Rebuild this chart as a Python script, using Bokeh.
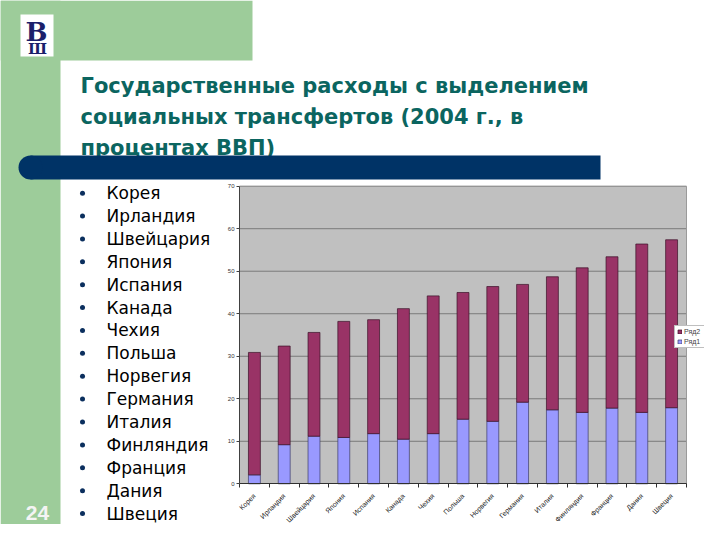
import math
from bokeh.plotting import figure
from bokeh.models import (Range1d, LinearAxis, FixedTicker, Legend, LegendItem,
                          ColumnDataSource)
from bokeh.core.properties import value
from bokeh.embed import file_html
from bokeh.resources import INLINE

# ---------------- data ----------------
countries = ["Корея", "Ирландия", "Швейцария", "Япония", "Испания", "Канада",
             "Чехия", "Польша", "Норвегия", "Германия", "Италия", "Финляндия",
             "Франция", "Дания", "Швеция"]
series1 = [2.1, 9.2, 11.2, 10.9, 11.8, 10.5, 11.8, 15.2, 14.7, 19.2, 17.4, 16.8,
           17.8, 16.8, 17.9]          # Ряд1 (social transfers)
series2 = [28.8, 23.2, 24.4, 27.3, 26.8, 30.7, 32.4, 29.8, 31.7, 27.7, 31.3,
           34.0, 35.6, 39.6, 39.5]    # Ряд2 (other spending)
series_names = ["Ряд1", "Ряд2"]
y_ticks = [0, 10, 20, 30, 40, 50, 60, 70]
title_lines = ["Государственные расходы с выделением",
               "социальных трансфертов (2004 г., в",
               "процентах ВВП)"]
slide_number = "24"

# ---------------- layout (picture pixel coordinates) ----------------
W, H, OFF = 704, 524, 0
PX0, PX1 = 239.0, 686.0       # chart plot area left / right
PY0, PY1 = 483.3, 185.7       # value 0 / value max
FONT = value("Liberation Sans")
DFONT = value("DejaVu Sans")

p = figure(width=W, height=H, x_range=Range1d(OFF, OFF + W),
           y_range=Range1d(OFF + H, OFF), x_axis_type=None, y_axis_type=None,
           toolbar_location=None, output_backend="svg", min_border=0,
           outline_line_color=None, background_fill_color="white",
           border_fill_color="white")

n = len(countries)
vmax = y_ticks[-1]
ux = n / (PX1 - PX0)
uy = vmax / (PY0 - PY1)
p.extra_x_ranges = {"cx": Range1d((OFF - PX0) * ux, (OFF + W - PX0) * ux)}
p.extra_y_ranges = {"val": Range1d(-(OFF + H - PY0) * uy, vmax + (PY1 - OFF) * uy)}

# ---------------- slide decoration ----------------
GREEN = "#9dcc9a"
p.quad(left=[0, 0], right=[60, 252], top=[0, 0], bottom=[540, 60],
       fill_color=GREEN, line_color=None)
# logo
p.quad(left=20, right=53, top=14, bottom=56, fill_color="white", line_color=None)
p.text(x=[36], y=[31], text=["В"], text_font=value("DejaVu Serif"),
       text_font_style="bold", text_font_size="26px", text_color="#1b1f6b",
       text_align="center", text_baseline="middle")
p.text(x=[37], y=[48], text=["Ш"], text_font=value("DejaVu Serif"),
       text_font_style="bold", text_font_size="15px", text_color="#1b1f6b",
       text_align="center", text_baseline="middle")

# title
p.text(x=[80] * 3, y=[85, 116, 147], text=title_lines, text_font=DFONT,
       text_font_style="bold", text_font_size="21px", text_color="#0b6560",
       text_baseline="alphabetic", text_align="left")

# navy bar
NAVY = "#003366"
p.quad(left=30, right=600, top=155, bottom=179, fill_color=NAVY, line_color=None)
p.ellipse(x=30, y=167, width=24, height=24, fill_color=NAVY, line_color=None)

# bullet list
ys = [192.7 + i * 22.88 for i in range(n)]
p.scatter(x=[82] * n, y=ys, size=5, fill_color="#0b2f5e", line_color=None)
p.text(x=[106] * n, y=ys, text=countries, text_font=DFONT, text_font_size="17px",
       text_color="black", text_baseline="middle", text_align="left")

# slide number
p.text(x=[37], y=[512], text=[slide_number], text_font=FONT,
       text_font_style="bold", text_font_size="21px", text_color="#f4f4f4",
       text_align="center", text_baseline="middle")

# ---------------- chart ----------------
kw = dict(x_range_name="cx", y_range_name="val")
p.quad(left=0, right=n, bottom=0, top=vmax, fill_color="#C0C0C0",
       line_color=None, **kw)
p.segment(x0=[0] * (len(y_ticks) - 1), x1=[n] * (len(y_ticks) - 1),
          y0=y_ticks[1:], y1=y_ticks[1:], line_color="#7a7a7a", line_width=1, **kw)
p.segment(x0=[n], x1=[n], y0=[0], y1=[vmax], line_color="#9a9a9a", line_width=1, **kw)

xs = [i + 0.5 for i in range(n)]
tops = [a + b for a, b in zip(series1, series2)]
src = ColumnDataSource(dict(x=xs, s1=series1, tot=tops))
r1 = p.vbar(x="x", width=0.4, bottom=0, top="s1", source=src,
            fill_color="#9999FF", line_color="#3c3c6a", line_width=0.7, **kw)
r2 = p.vbar(x="x", width=0.4, bottom="s1", top="tot", source=src,
            fill_color="#993366", line_color="#3a1026", line_width=0.7, **kw)

yax = LinearAxis(fixed_location=0, bounds=(0, vmax),
                 ticker=FixedTicker(ticks=y_ticks),
                 major_label_text_font_size="6px", major_label_text_font="Liberation Sans",
                 major_label_text_color="#333333", major_tick_out=3, major_tick_in=0,
                 minor_tick_out=0, minor_tick_in=0, axis_line_color="#404040",
                 major_tick_line_color="#404040", major_label_standoff=2, **kw)
p.add_layout(yax, "left")

xax = LinearAxis(fixed_location=0, bounds=(0, n),
                 ticker=FixedTicker(ticks=xs, minor_ticks=list(range(n + 1))),
                 major_label_overrides={x: c for x, c in zip(xs, countries)},
                 major_label_orientation=math.pi / 4,
                 major_label_text_font_size="7px", major_label_text_font="Liberation Sans",
                 major_label_text_color="#222222", major_tick_out=0, major_tick_in=0,
                 minor_tick_out=4, minor_tick_in=0, minor_tick_line_color="#303030",
                 axis_line_color="#303030", axis_line_width=1.2,
                 major_label_standoff=7, **kw)
p.add_layout(xax, "below")

legend = Legend(items=[LegendItem(label=series_names[1], renderers=[r2]),
                       LegendItem(label=series_names[0], renderers=[r1])],
                location=(674, 176), label_text_font_size="7px",
                label_text_font="Liberation Sans", glyph_width=5, glyph_height=5,
                label_standoff=2, padding=2, spacing=3, margin=0,
                label_height=7, border_line_color="#808080", border_line_width=0.8,
                background_fill_color="white", background_fill_alpha=1.0)
p.add_layout(legend)

open("out.html", "w").write(file_html(p, INLINE))
